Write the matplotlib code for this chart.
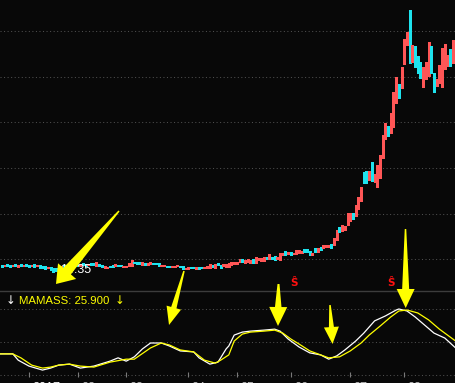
import matplotlib
matplotlib.use('Agg')
import matplotlib.pyplot as plt
import numpy as np
from matplotlib.patches import Polygon
from matplotlib.transforms import IdentityTransform

# 日K线 2017.01 - 2017.08 (开盘价 / 收盘价)
opens = [15.0, 14.9, 15.1, 15.0, 14.9, 15.1, 14.8, 15.1, 14.9, 15.1,
         15.0, 14.9, 15.1, 14.9, 15.0, 14.9, 14.9, 14.7, 14.8, 14.7,
         14.7, 14.5, 14.7, 15.0, 14.8, 14.9, 15.1, 14.9, 15.1, 14.9,
         15.2, 15.1, 15.0, 15.2, 15.2, 14.9, 15.1, 15.0, 14.7,
         14.7, 14.9, 15.0, 14.93, 15.0, 15.0, 14.83, 14.8, 14.9, 14.9,
         15.33, 15.27, 15.27, 15.0, 15.23, 15.0, 15.13, 15.2, 15.17, 15.17,
         14.9, 14.9, 14.93, 14.93, 14.83, 14.83, 14.9, 14.93, 14.87, 14.57,
         14.6, 14.83, 14.83, 14.63, 14.83, 14.83, 14.73, 14.67, 14.67, 15.0,
         14.7, 15.23, 15.0, 14.95, 14.85, 14.8, 15.03, 15.1, 15.15, 15.3,
         15.63, 15.23, 15.33, 15.17, 15.6, 15.17, 15.5, 15.43, 15.4, 15.77,
         15.63, 15.77, 15.9, 15.57, 15.5, 16.0, 16.4, 16.1, 16.33, 16.1,
         16.1, 16.17, 16.23,
         16.57, 16.57, 16.4, 16.03, 16.7, 16.33, 16.8, 16.7, 16.77, 16.8,
         17.07, 16.97, 17.5, 18.83, 18.43, 18.5, 19.0, 19.4, 20.23, 19.9,
         20.57, 21.43,
         24.3, 24.4, 23.5, 25.3, 23.3, 22.8, 23.7, 25.7, 27.6, 28.9,
         28.2, 28.8, 31.2, 33.1, 32.7, 35.1, 37.0, 40.5, 35.3, 36.9,
         35.9, 35.3, 32.8, 33.6, 33.9, 36.9, 34.2, 32.9, 33.2, 32.8,
         34.6, 34.9, 36.6, 35.2, 37.0]
closes = [14.8, 15.0, 14.9, 14.8, 15.0, 14.9, 15.0, 14.9, 15.0, 14.9,
          14.8, 15.0, 14.8, 15.0, 14.7, 14.7, 14.6, 14.8, 14.5, 14.35,
          14.4, 14.8, 14.9, 14.8, 15.0, 15.1, 14.9, 15.1, 14.9, 15.1,
          15.0, 14.9, 15.1, 15.0, 15.0, 15.3, 14.9, 14.8, 14.9,
          14.8, 14.8, 14.83, 15.07, 14.9, 14.9, 14.9, 14.9, 15.17, 15.53,
          15.17, 15.07, 15.07, 15.27, 15.0, 15.2, 15.27, 15.1, 15.07, 14.93,
          15.0, 15.0, 14.83, 14.77, 14.9, 14.93, 15.0, 14.77, 14.57, 14.67,
          14.83, 14.73, 14.73, 14.83, 14.6, 14.67, 14.83, 14.87, 15.07, 14.83,
          15.15, 15.0, 14.7, 15.1, 15.15, 15.2, 15.3, 15.33, 15.3, 15.57,
          15.3, 15.5, 15.57, 15.5, 15.17, 15.77, 15.67, 15.67, 15.77, 15.63,
          16.1, 15.57, 15.5, 15.83, 16.23, 16.23, 16.0, 16.33, 15.97, 16.23,
          16.5, 16.5, 16.43,
          16.3, 16.33, 16.0, 16.23, 16.3, 16.7, 16.5, 16.97, 17.0, 17.0,
          16.73, 17.67, 18.5, 18.33, 19.0, 18.9, 20.17, 20.23, 19.57, 21.0,
          21.77, 22.83,
          23.2, 23.2, 24.4, 23.4, 24.1, 25.0, 26.0, 28.0, 29.2, 27.9,
          30.2, 32.3, 33.8, 31.7, 34.8, 37.6, 38.3, 35.2, 37.0, 34.8,
          34.2, 33.7, 34.8, 35.3, 37.3, 34.2, 32.3, 33.6, 35.0, 36.7,
          37.1, 36.0, 34.9, 37.5, 35.5]

# MASS (white) and MAMASS (yellow), sampled at candle index
mass_x = [-1, 4, 6, 10, 15, 18, 21, 25, 29, 34, 40, 43, 46, 49, 52, 55, 59, 62, 66,
          71, 73, 77, 80, 83, 84, 86, 89, 92, 97, 101, 103, 106, 110, 114, 118,
          121, 124, 127, 131, 134, 138, 142, 146, 147, 150, 153, 157, 160, 164, 168]
mass_y = [25.64, 25.64, 25.45, 25.27, 25.15, 25.21, 25.30, 25.33, 25.21, 25.27,
          25.42, 25.52, 25.42, 25.55, 25.79, 25.97, 25.97, 25.88, 25.73, 25.70,
          25.52, 25.33, 25.39, 25.79, 25.88, 26.21, 26.30, 26.33, 26.36, 26.39,
          26.33, 26.09, 25.85, 25.67, 25.61, 25.48, 25.58, 25.76, 26.03, 26.27,
          26.64, 26.79, 26.97, 27.00, 26.94, 26.76, 26.48, 26.27, 26.12, 25.82]
mamass_x = [-1, 4, 7, 11, 15, 18, 21, 25, 29, 34, 40, 46, 49, 55, 59, 62, 66, 71,
            75, 79, 81, 84, 86, 89, 92, 97, 101, 104, 107, 110, 114, 118, 121,
            125, 129, 133, 136, 140, 144, 147, 150, 154, 158, 162, 166, 168]
mamass_y = [25.64, 25.64, 25.52, 25.30, 25.21, 25.24, 25.30, 25.33, 25.27, 25.24,
            25.39, 25.48, 25.48, 25.82, 25.97, 25.91, 25.76, 25.70, 25.45, 25.36,
            25.45, 25.61, 26.03, 26.24, 26.30, 26.33, 26.36, 26.27, 26.09, 25.94,
            25.73, 25.61, 25.52, 25.55, 25.73, 25.97, 26.21, 26.48, 26.76, 26.94,
            26.97, 26.88, 26.67, 26.39, 26.15, 26.03]

month_idx = [10, 28, 46, 69, 87, 107, 129, 149]
month_labels = ['2017', '02', '03', '04', '05', '06', '07', '08']
signal_idx = [108, 144]
low_price = 14.35
mamass_last = 25.900

W, H = 456, 383
BG = '#080808'
UP = '#ff5656'
DOWN = '#1ee3ee'
GRID = '#4e4e4e'
YELLOW = '#ffff00'
FONT = ['Liberation Sans', 'DejaVu Sans']


def taper_arrow(fig, tail, tip, w_tail, w_neck, head_w, head_len):
    """Yellow hand-drawn style arrow, given in image pixels (origin top-left)."""
    p0 = np.array([tail[0], H - tail[1]], float)
    p1 = np.array([tip[0], H - tip[1]], float)
    d = (p1 - p0) / np.hypot(*(p1 - p0))
    n = np.array([-d[1], d[0]])
    neck = p1 - d * head_len
    pts = [p0 + n * w_tail / 2, neck + n * w_neck / 2, neck + n * head_w / 2, p1,
           neck - n * head_w / 2, neck - n * w_neck / 2, p0 - n * w_tail / 2]
    fig.add_artist(Polygon(pts, closed=True, transform=IdentityTransform(),
                           fc=YELLOW, ec='none', zorder=10))


fig = plt.figure(figsize=(W / 100, H / 100), dpi=100, facecolor=BG)
ax = fig.add_axes([0, 93 / H, 1, 290 / H])   # K线
ax2 = fig.add_axes([0, 0, 1, 93 / H])        # MASS
for a in (ax, ax2):
    a.set_facecolor(BG)
    a.set_axis_off()
    a.set_xlim(-0.74, 168.15)
ax.set_ylim(12.5, 41.5)
ax2.set_ylim(24.758, 27.576)

# grid
for p in [38.4, 33.8, 29.3, 24.7, 20.1, 15.6]:
    ax.axhline(p, color=GRID, lw=0.75, ls=(0, (1, 2.4)), zorder=0)
for v in [27, 26, 25]:
    ax2.axhline(v, color=GRID, lw=0.75, ls=(0, (1, 2.4)), zorder=0)
ax2.axhline(27.56, color='#3c3c3c', lw=1.0, clip_on=False)

# candles
o = np.array(opens)
c = np.array(closes)
idx = np.arange(len(o))
lo = np.minimum(o, c)
hi = np.maximum(np.maximum(o, c), lo + 0.1)
ax.vlines(idx, lo, hi, colors=np.where(c >= o, UP, DOWN), lw=0.75, antialiased=False)

ax.text(21.5, low_price + 0.15, '%.2f' % low_price, color='white', fontsize=9,
        va='center', ha='left', family=FONT)
for s in signal_idx:
    ax.text(s, 13.2, 'Ŝ', color='#ff1010', fontsize=7.5, fontweight='bold',
            ha='center', va='center', family=['DejaVu Sans'])

# indicator
ax2.plot(mass_x, mass_y, color='white', lw=0.9)
ax2.plot(mamass_x, mamass_y, color=YELLOW, lw=0.9)
ax2.vlines(month_idx, 24.94, 25.09, color='#7a7a7a', lw=0.8)
for m, lab in zip(month_idx, month_labels):
    ax2.text(m + 1.3, 24.80, lab, color='white' if lab == '2017' else '#c0c0c0',
             fontsize=9, va='top', ha='left', family=FONT, clip_on=False)

ty = 1 - 300.5 / H
fig.text(6 / W, ty, '↓', color='white', fontsize=8.5, va='center', family=['DejaVu Sans'])
fig.text(19 / W, ty, 'MAMASS: %.3f' % mamass_last, color=YELLOW, fontsize=8.2,
         va='center', family=FONT)
fig.text(115 / W, ty, '↓', color=YELLOW, fontsize=8.5, va='center', family=['DejaVu Sans'])

# yellow marker arrows
arrows = [((119, 211), (56, 284), 1.5, 10, 24, 17),
          ((184, 271), (169, 325), 1.5, 5.5, 15, 18),
          ((278.5, 284), (278, 326), 2, 6.5, 18, 19),
          ((330, 305), (332.5, 344), 1.5, 5, 15, 17),
          ((405.5, 229), (405.7, 308), 1.5, 7, 18, 19)]
for tail, tip, wt, wn, hw, hl in arrows:
    taper_arrow(fig, tail, tip, wt, wn, hw, hl)

fig.savefig('out.png', dpi=100, facecolor=BG)
